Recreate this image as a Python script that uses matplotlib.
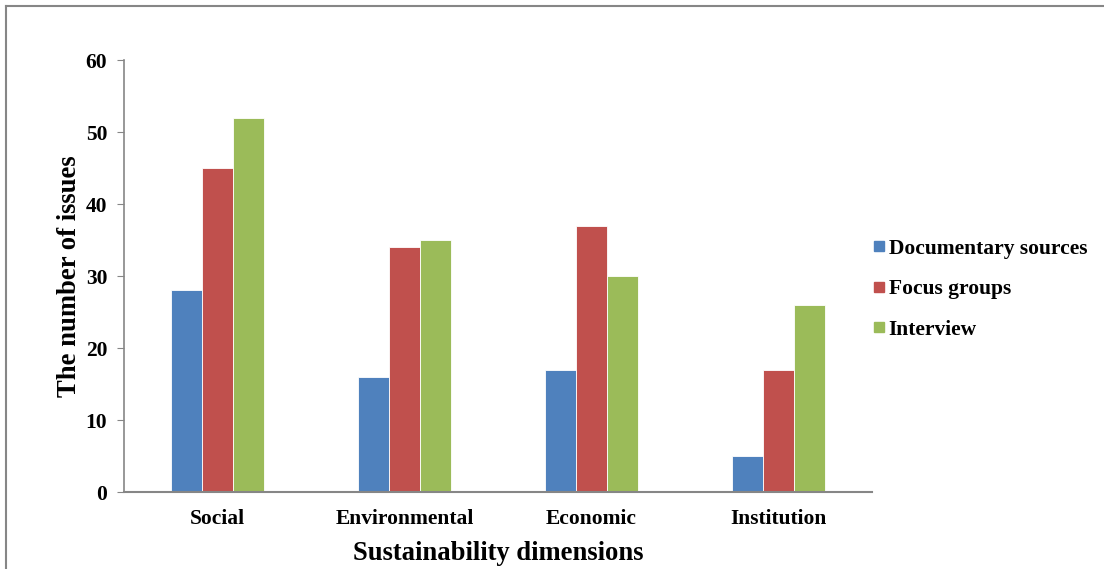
import numpy as np
import matplotlib
matplotlib.use("Agg")
import matplotlib.pyplot as plt
from matplotlib.lines import Line2D

# Data
categories = ["Social", "Environmental", "Economic", "Institution"]
series_names = ["Documentary sources", "Focus groups", "Interview"]
documentary = [28, 16, 17, 5]
focus_groups = [45, 34, 37, 17]
interview = [52, 35, 30, 26]
colors = ["#4F81BD", "#C0504D", "#9BBB59"]

plt.rcParams["font.family"] = ["Liberation Serif", "DejaVu Serif"]
plt.rcParams["font.weight"] = "bold"

fig = plt.figure(figsize=(11.04, 5.69), dpi=100)
ax = fig.add_axes([124 / 1104, 1 - 492 / 569, (872 - 124) / 1104, (492 - 60) / 569])

x = np.arange(len(categories))
width = 1 / 6
for i, (vals, name) in enumerate(zip([documentary, focus_groups, interview], series_names)):
    ax.bar(x + (i - 1) * width, vals, width, color=colors[i], label=name,
           edgecolor="white", linewidth=0.6)

ax.set_xlim(-0.5, len(categories) - 0.5)
ax.set_ylim(0, 60)
ax.set_yticks(range(0, 61, 10))
ax.set_xticks(x)
ax.set_xticklabels(categories, fontsize=15.5, fontweight="bold")
ax.tick_params(axis="y", labelsize=15.5, length=5, color="#868686", pad=7)
ax.tick_params(axis="x", length=0, pad=12)
for lbl in ax.get_yticklabels():
    lbl.set_fontweight("bold")

for s in ["top", "right"]:
    ax.spines[s].set_visible(False)
ax.spines["left"].set_color("#868686")
ax.spines["bottom"].set_color("#868686")
ax.spines["left"].set_linewidth(1.2)
ax.spines["bottom"].set_linewidth(1.5)

ax.set_xlabel("Sustainability dimensions", fontsize=19.2, fontweight="bold", labelpad=9)
ax.set_ylabel("The number of issues", fontsize=19.2, fontweight="bold", labelpad=3)

handles = [Line2D([], [], marker="s", linestyle="none", markersize=7.5,
                  markerfacecolor=c, markeredgecolor=c) for c in colors]
fig.legend(handles, series_names, loc="center left",
           bbox_to_anchor=(853 / 1104, 1 - 289 / 569), frameon=False,
           prop={"size": 15.5, "weight": "bold"}, handlelength=0.6,
           handletextpad=0.15, labelspacing=0.95)

# outer chart border (top and left edges visible)
fig.add_artist(Line2D([6 / 1104, 1.0], [1 - 6 / 569, 1 - 6 / 569],
                      transform=fig.transFigure, color="#868686", linewidth=1.5))
fig.add_artist(Line2D([6 / 1104, 6 / 1104], [0.0, 1 - 6 / 569],
                      transform=fig.transFigure, color="#868686", linewidth=1.5))

fig.savefig("out.png", dpi=100)
